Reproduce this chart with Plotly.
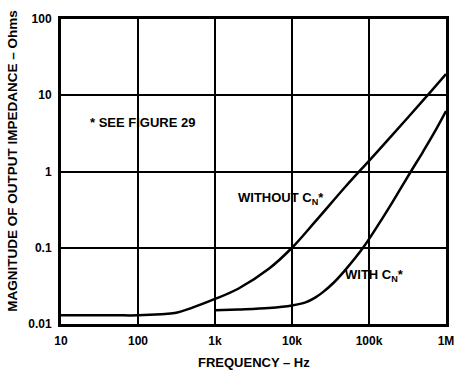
import plotly.graph_objects as go

# Output impedance vs frequency, two compensation cases
freq_without = [10, 20, 50, 100, 200, 300, 500, 1e3, 2e3, 5e3, 1e4, 2e4, 5e4, 1e5, 2e5, 5e5, 1e6]
z_without = [0.013, 0.013, 0.013, 0.013, 0.0134, 0.0139, 0.0163, 0.0213, 0.029, 0.053, 0.1,
             0.22, 0.64, 1.38, 3.0, 8.5, 19.0]

freq_with = [1e3, 2e3, 5e3, 1e4, 1.5e4, 2e4, 2.5e4, 3.5e4, 5e4, 8.5e4, 1.5e5, 2e5, 3.5e5,
             5e5, 7e5, 1e6]
z_with = [0.0151, 0.0155, 0.0162, 0.0175, 0.0192, 0.0222, 0.026, 0.035, 0.052, 0.102, 0.245,
          0.39, 1.0, 1.8, 3.2, 6.2]

x_ticks = [10, 100, 1e3, 1e4, 1e5, 1e6]
x_labels = ["10", "100", "1k", "10k", "100k", "1M"]
y_ticks = [0.01, 0.1, 1, 10, 100]
y_labels = ["0.01", "0.1", "1", "10", "100"]

FONT = "Liberation Sans, Arial, sans-serif"

fig = go.Figure()
for fx, fy in [(freq_without, z_without), (freq_with, z_with)]:
    fig.add_trace(go.Scatter(x=fx, y=fy, mode="lines",
                             line=dict(color="black", width=2.5, shape="spline", smoothing=1),
                             showlegend=False, hoverinfo="skip"))

axis_common = dict(type="log", showgrid=True, gridcolor="black", gridwidth=1.5,
                   showline=True, linecolor="black", linewidth=3, mirror=True,
                   ticks="", zeroline=False,
                   tickfont=dict(family=FONT, size=12, color="black", weight="bold"))

fig.update_xaxes(range=[1, 6], tickvals=x_ticks, ticktext=x_labels, ticklabelstandoff=4,
                 **axis_common)
fig.update_yaxes(range=[-2, 2], tickvals=y_ticks, ticktext=y_labels, ticklabelstandoff=4,
                 **axis_common)

lbl = dict(family=FONT, size=13, color="black", weight="bold")
fig.add_annotation(text="FREQUENCY – Hz", xref="paper", yref="paper", x=0.5, y=-0.095,
                   yanchor="top", showarrow=False, font=lbl)
fig.add_annotation(text="MAGNITUDE OF OUTPUT IMPEDANCE – Ohms", xref="paper", yref="paper",
                   x=-0.125, y=0.535, xanchor="center", yanchor="middle", textangle=-90,
                   showarrow=False, font=dict(family=FONT, size=13.5, color="black", weight="bold"))
fig.add_annotation(text="* SEE FIGURE 29", x=2.06, y=0.64, xref="x", yref="y",
                   showarrow=False, font=lbl)
fig.add_annotation(text="WITHOUT C<sub>N</sub>*", x=3.86, y=-0.35, xref="x", yref="y",
                   showarrow=False, font=lbl)
fig.add_annotation(text="WITH C<sub>N</sub>*", x=5.07, y=-1.37, xref="x", yref="y",
                   showarrow=False, font=lbl)

fig.update_layout(width=466, height=372, margin=dict(l=61, r=14, t=12, b=48),
                  paper_bgcolor="white", plot_bgcolor="white")

fig.write_html("out.html")
